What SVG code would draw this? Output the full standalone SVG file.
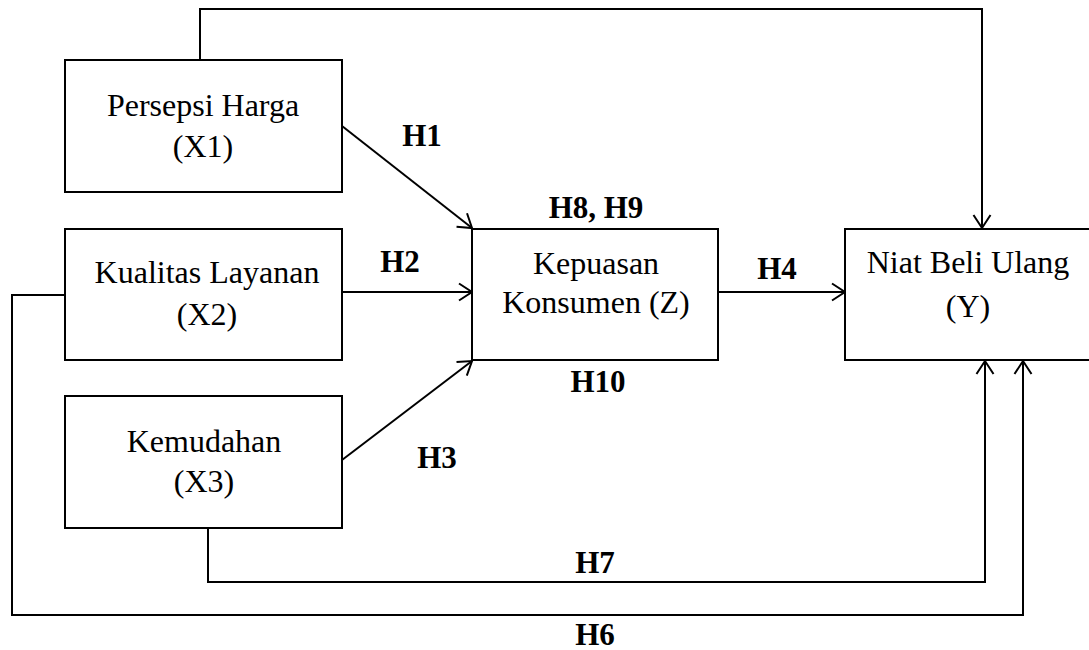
<svg xmlns="http://www.w3.org/2000/svg" width="1089" height="650" viewBox="0 0 1089 650">
<style>
.box{fill:#fff;stroke:#000;stroke-width:2}
.t{font-family:"Liberation Serif","Times New Roman",serif;font-size:32px;fill:#000;text-anchor:middle}
.b{font-family:"Liberation Serif","Times New Roman",serif;font-size:31px;font-weight:bold;fill:#000;text-anchor:middle}
.c{fill:none;stroke:#000;stroke-width:2}
</style>
<defs>
<marker id="ah" markerUnits="userSpaceOnUse" markerWidth="20" markerHeight="20" refX="14" refY="10" orient="auto">
<path d="M1,1.5 L14,10 L1,18.5" fill="none" stroke="#000" stroke-width="2"/>
</marker>
</defs>
<rect width="1089" height="650" fill="#fff"/>
<g id="connectors">
<path class="c" d="M200,60 V9 H982 V228" marker-end="url(#ah)"/>
<path class="c" d="M342,126 L472,228" marker-end="url(#ah)"/>
<path class="c" d="M342,292 H472" marker-end="url(#ah)"/>
<path class="c" d="M342,460 L472,361" marker-end="url(#ah)"/>
<path class="c" d="M718,292 H845" marker-end="url(#ah)"/>
<path class="c" d="M208,528 V582 H985 V361" marker-end="url(#ah)"/>
<path class="c" d="M65,295 H12 V615 H1023 V361" marker-end="url(#ah)"/>
</g>
<g id="labels">
<text class="b" x="422" y="146">H1</text>
<text class="b" x="400" y="272">H2</text>
<text class="b" x="437" y="468">H3</text>
<text class="b" x="777" y="279">H4</text>
<text class="b" x="596" y="218">H8, H9</text>
<text class="b" x="598" y="392">H10</text>
<text class="b" x="595" y="573">H7</text>
<text class="b" x="595" y="645">H6</text>
</g>
<g id="X1">
<rect class="box" x="65" y="60" width="277" height="132"/>
<text class="t" x="203" y="116">Persepsi Harga</text>
<text class="t" x="203" y="157">(X1)</text>
</g>
<g id="X2">
<rect class="box" x="65" y="229" width="277" height="131"/>
<text class="t" x="207" y="283">Kualitas Layanan</text>
<text class="t" x="207" y="325">(X2)</text>
</g>
<g id="X3">
<rect class="box" x="65" y="396" width="277" height="132"/>
<text class="t" x="204" y="452">Kemudahan</text>
<text class="t" x="204" y="492">(X3)</text>
</g>
<g id="Z">
<rect class="box" x="472" y="229" width="246" height="131"/>
<text class="t" x="596" y="274">Kepuasan</text>
<text class="t" x="596" y="313">Konsumen (Z)</text>
</g>
<g id="Y">
<rect class="box" x="845" y="229" width="246" height="131"/>
<text class="t" x="968" y="273">Niat Beli Ulang</text>
<text class="t" x="968" y="317">(Y)</text>
</g>
</svg>
